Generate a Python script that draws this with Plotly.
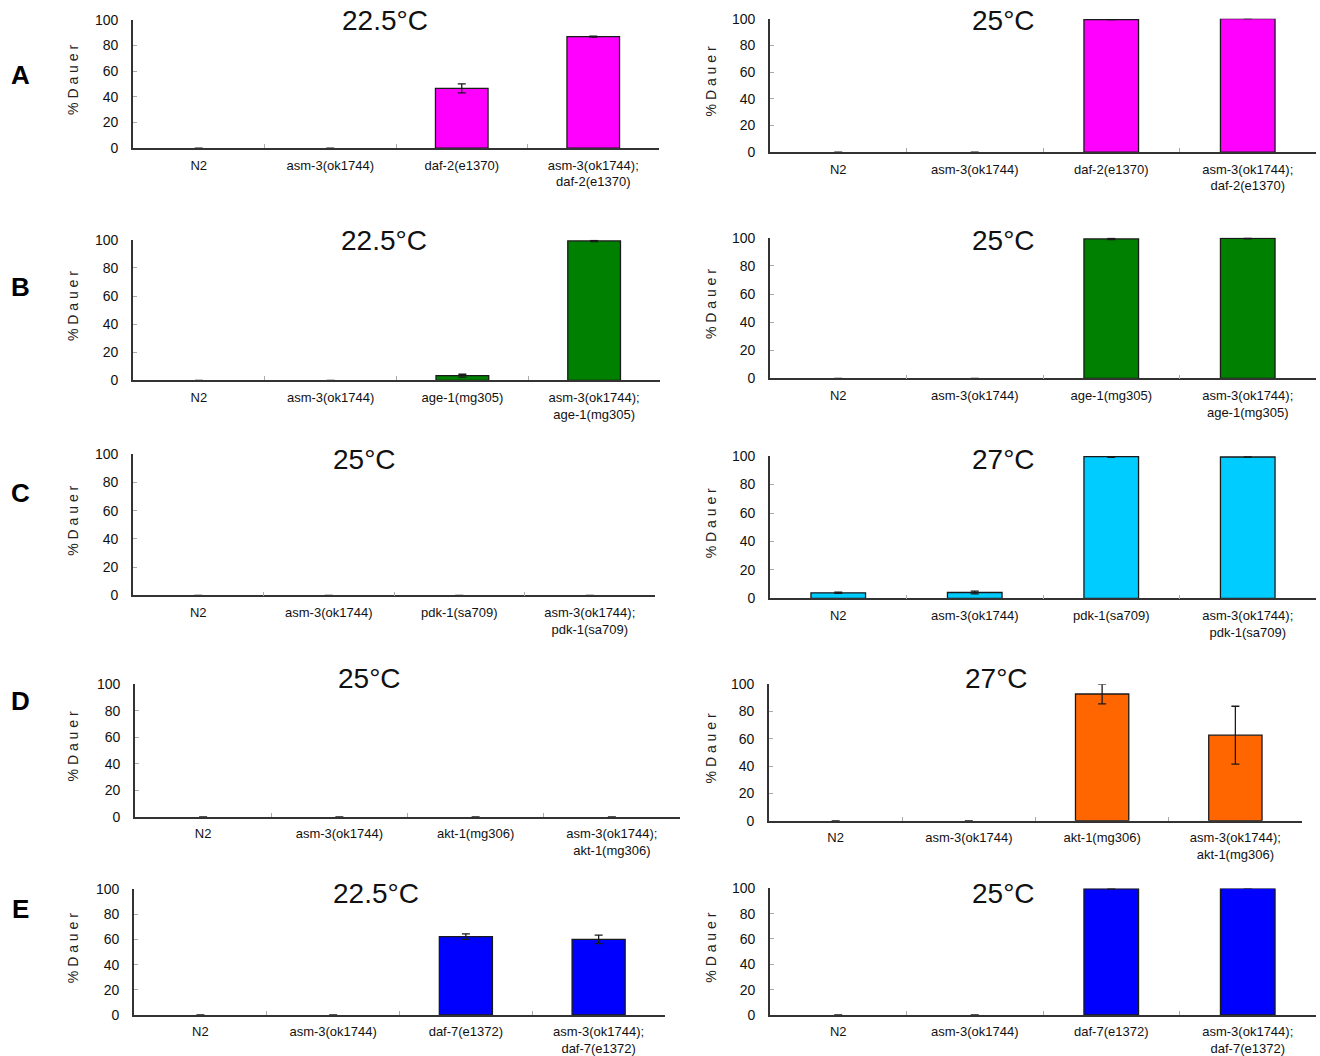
import plotly.graph_objects as go

W, H = 1320, 1056

# ---------------- data ----------------
base_cats = ["N2", "asm-3(ok1744)"]
mutants = ["daf-2(e1370)", "age-1(mg305)", "pdk-1(sa709)", "akt-1(mg306)", "daf-7(e1372)"]
row_letters = ["A", "B", "C", "D", "E"]
row_colors = ["#FF00FF", "#008000", "#00CCFF", "#FF6600", "#0000FF"]

temps_left = ["22.5°C", "22.5°C", "25°C", "25°C", "22.5°C"]
temps_right = ["25°C", "25°C", "27°C", "27°C", "25°C"]

# % Dauer values [N2, asm-3, mutant, asm-3;mutant]
vals_A_left = [0, 0, 46.5, 86.8]
err_A_left = [0, 0, 3.5, 0.4]
vals_A_right = [0, 0, 99.3, 100]
err_A_right = [0, 0, 0, 0]

vals_B_left = [0, 0, 3.3, 99.2]
err_B_left = [0, 0, 1.0, 0.4]
vals_B_right = [0, 0, 99.2, 99.7]
err_B_right = [0, 0, 0.5, 0.5]

vals_C_left = [0, 0, 0, 0]
err_C_left = [0, 0, 0, 0]
vals_C_right = [4.0, 4.2, 99.5, 99.3]
err_C_right = [0.4, 1.0, 0.4, 0]

vals_D_left = [0, 0, 0, 0]
err_D_left = [0, 0, 0, 0]
vals_D_right = [0, 0, 92.8, 62.6]
err_D_right = [0, 0, 7.2, 21.2]

vals_E_left = [0, 0, 62.3, 60.2]
err_E_left = [0, 0, 2.2, 3.4]
vals_E_right = [0, 0, 99.7, 100]
err_E_right = [0, 0, 0, 0]

y_ticks = [0, 20, 40, 60, 80, 100]

left_vals = [vals_A_left, vals_B_left, vals_C_left, vals_D_left, vals_E_left]
left_errs = [err_A_left, err_B_left, err_C_left, err_D_left, err_E_left]
right_vals = [vals_A_right, vals_B_right, vals_C_right, vals_D_right, vals_E_right]
right_errs = [err_A_right, err_B_right, err_C_right, err_D_right, err_E_right]

# ---------------- layout geometry (pixels: x0, x1, y_top(100), y_bottom(0)) ----------------
geom_left = [(133, 659, 20, 149), (133, 660, 241, 382), (133, 655, 456, 598),
             (135, 680, 687, 820), (134, 665, 893, 1019)]
geom_right = [(770, 1316, 19, 153), (770, 1316, 239, 380), (770, 1316, 458, 601),
              (769, 1302, 687, 824), (770, 1316, 892, 1019)]
title_pos_left = [(385, 21), (384, 242), (364, 462), (369, 681), (376, 897)]
title_pos_right = [(1003, 21), (1003, 242), (1003, 462), (997, 681), (1003, 897)]
letter_pos = [(20, 76), (20, 288), (20, 495), (20, 704), (20, 913)]
ytitle_x = [73, 711]

FONT = "Liberation Sans, Arial, sans-serif"
fig = go.Figure()
annotations = []
layout_axes = {}

def px_x(v):
    return v / W

def px_y(v):
    v2 = (v - 8.3) / 0.98
    return 1 - v2 / H

idx = 0
for r in range(5):
    cats = base_cats + [mutants[r], "asm-3(ok1744);<br>" + mutants[r]]
    for side in range(2):
        idx += 1
        vals = left_vals[r] if side == 0 else right_vals[r]
        errs = left_errs[r] if side == 0 else right_errs[r]
        errs_plot = [e if e > 0 else None for e in errs]
        g = geom_left[r] if side == 0 else geom_right[r]
        xa = "x" if idx == 1 else f"x{idx}"
        ya = "y" if idx == 1 else f"y{idx}"
        line_w = [1.3 if v > 0 else 0 for v in vals]
        fig.add_trace(go.Bar(
            x=cats, y=vals, xaxis=xa, yaxis=ya,
            width=0.4,
            marker=dict(color=row_colors[r], line=dict(color="#1a1a1a", width=line_w)),
            error_y=dict(type="data", array=errs_plot, visible=True, color="#1a1a1a",
                         thickness=1.3, width=4),
            cliponaxis=False, showlegend=False, hoverinfo="x+y",
        ))
        xk = "xaxis" if idx == 1 else f"xaxis{idx}"
        yk = "yaxis" if idx == 1 else f"yaxis{idx}"
        layout_axes[xk] = dict(
            domain=[px_x(g[0]), px_x(g[1])], anchor=ya, type="category",
            categoryorder="array", categoryarray=cats,
            range=[-0.5, 3.5], showline=True, linecolor="#333333", linewidth=1.6,
            ticks="inside", ticklen=4, tickcolor="#aaaaaa", tickwidth=1,
            tickson="boundaries", showgrid=False, zeroline=False,
            tickfont=dict(family=FONT, size=13, color="#111111"),
            ticklabelstandoff=4, fixedrange=True,
        )
        layout_axes[yk] = dict(
            domain=[px_y(g[3]), px_y(g[2])], anchor=xa, range=[0, 100],
            tickvals=y_ticks, showline=True, linecolor="#333333", linewidth=1.6,
            ticks="inside", ticklen=4, tickcolor="#aaaaaa", tickwidth=1,
            showgrid=False, zeroline=False,
            tickfont=dict(family=FONT, size=14, color="#111111"),
            ticklabelstandoff=10, fixedrange=True,
        )
        tp = title_pos_left[r] if side == 0 else title_pos_right[r]
        temp = temps_left[r] if side == 0 else temps_right[r]
        annotations.append(dict(
            text=temp, x=px_x(tp[0]), y=px_y(tp[1]), xref="paper", yref="paper",
            xanchor="center", yanchor="middle", showarrow=False,
            font=dict(family=FONT, size=28, color="#111111"),
        ))
        annotations.append(dict(
            text="% D a u e r", x=px_x(ytitle_x[side]), y=px_y((g[2] + g[3]) / 2 - 4),
            xref="paper", yref="paper", xanchor="center", yanchor="middle",
            textangle=-90, showarrow=False,
            font=dict(family=FONT, size=14, color="#222222"),
        ))
    lp = letter_pos[r]
    annotations.append(dict(
        text="<b>" + row_letters[r] + "</b>", x=px_x(lp[0]), y=px_y(lp[1]),
        xref="paper", yref="paper", xanchor="center", yanchor="middle",
        showarrow=False, font=dict(family=FONT, size=26, color="#000000"),
    ))

fig.update_layout(
    width=W, height=H, margin=dict(l=0, r=0, t=0, b=0),
    paper_bgcolor="white", plot_bgcolor="white",
    annotations=annotations, bargap=0.6, **layout_axes,
)

post = (
    "document.documentElement.style.margin='0';"
    "document.body.style.margin='0';document.body.style.padding='0';"
    "document.documentElement.style.overflow='hidden';document.body.style.overflow='hidden';"
    "var gd=document.getElementById('{plot_id}');"
    "gd.style.position='fixed';gd.style.top='0px';gd.style.left='0px';"
)

fig.write_html("out.html", config={"displayModeBar": False}, post_script=post)
